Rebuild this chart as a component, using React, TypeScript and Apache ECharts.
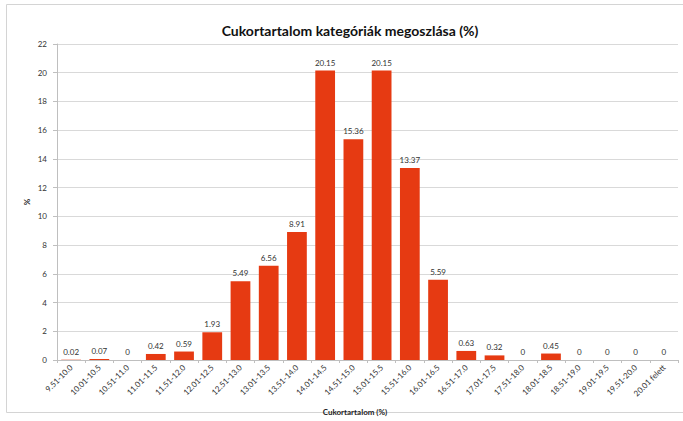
import React, { useEffect, useRef } from "react";
import * as echarts from "echarts";

const categories = [
  "9.51-10.0", "10.01-10.5", "10.51-11.0", "11.01-11.5", "11.51-12.0", "12.01-12.5",
  "12.51-13.0", "13.01-13.5", "13.51-14.0", "14.01-14.5", "14.51-15.0", "15.01-15.5",
  "15.51-16.0", "16.01-16.5", "16.51-17.0", "17.01-17.5", "17.51-18.0", "18.01-18.5",
  "18.51-19.0", "19.01-19.5", "19.51-20.0", "20.01 felett",
];
const values = [
  0.02, 0.07, 0, 0.42, 0.59, 1.93, 5.49, 6.56, 8.91, 20.15, 15.36, 20.15, 13.37, 5.59,
  0.63, 0.32, 0, 0.45, 0, 0, 0, 0,
];
const title = "Cukortartalom kategóriák megoszlása (%)";
const xName = "Cukortartalom (%)";
const yName = "%";

const FONT = "Lato, 'Open Sans', sans-serif";

export default function App() {
  const ref = useRef<HTMLDivElement>(null);
  useEffect(() => {
    const chart = echarts.init(ref.current!, null, { renderer: "svg" });
    chart.setOption({
      animation: false,
      backgroundColor: "#ffffff",
      textStyle: { fontFamily: FONT },
      title: {
        text: title,
        left: 345,
        top: 18,
        textAlign: "center",
        textStyle: { fontSize: 14, fontWeight: "bold", color: "#111", fontFamily: FONT },
      },
      graphic: [
        {
          type: "rect",
          shape: { x: 6.5, y: 4.5, width: 700, height: 408 },
          style: { fill: "none", stroke: "#d4d4d4", lineWidth: 1 },
          silent: true,
        },
        {
          type: "text",
          x: 355,
          y: 412,
          style: {
            text: xName,
            fontSize: 8,
            fontWeight: "bold",
            fill: "#222",
            fontFamily: FONT,
            align: "center",
            verticalAlign: "middle",
          },
        },
        {
          type: "text",
          x: 27,
          y: 202,
          rotation: Math.PI / 2,
          style: {
            text: yName,
            fontSize: 8,
            fontWeight: "bold",
            fill: "#222",
            fontFamily: FONT,
            align: "center",
            verticalAlign: "middle",
          },
        },
      ],
      grid: { left: 57, right: 5, top: 44, bottom: 61, containLabel: false },
      xAxis: {
        type: "category",
        data: categories,
        axisLine: { show: true, lineStyle: { color: "#bfbfbf" } },
        axisTick: { show: true, alignWithLabel: false, lineStyle: { color: "#bfbfbf" }, length: 3 },
        axisLabel: {
          interval: 0,
          rotate: 45,
          fontSize: 8,
          color: "#333",
          fontFamily: FONT,
          margin: 6,
        },
      },
      yAxis: {
        type: "value",
        min: 0,
        max: 22,
        interval: 2,
        axisLine: { show: true, lineStyle: { color: "#bfbfbf" } },
        axisTick: { show: true, length: 4, lineStyle: { color: "#bfbfbf" } },
        splitLine: { show: true, lineStyle: { color: "#d9d9d9", width: 1 } },
        axisLabel: { fontSize: 8, color: "#333", fontFamily: FONT, margin: 10 },
      },
      series: [
        {
          type: "bar",
          data: values,
          barCategoryGap: "30%",
          itemStyle: { color: "#E63A12" },
          label: {
            show: true,
            position: "top",
            fontSize: 8,
            color: "#333",
            fontFamily: FONT,
            distance: 4,
          },
        },
      ],
    });
    return () => chart.dispose();
  }, []);
  return (
    <div
      ref={ref}
      style={{ position: "fixed", left: 0, top: 0, width: 683, height: 421 }}
    />
  );
}
